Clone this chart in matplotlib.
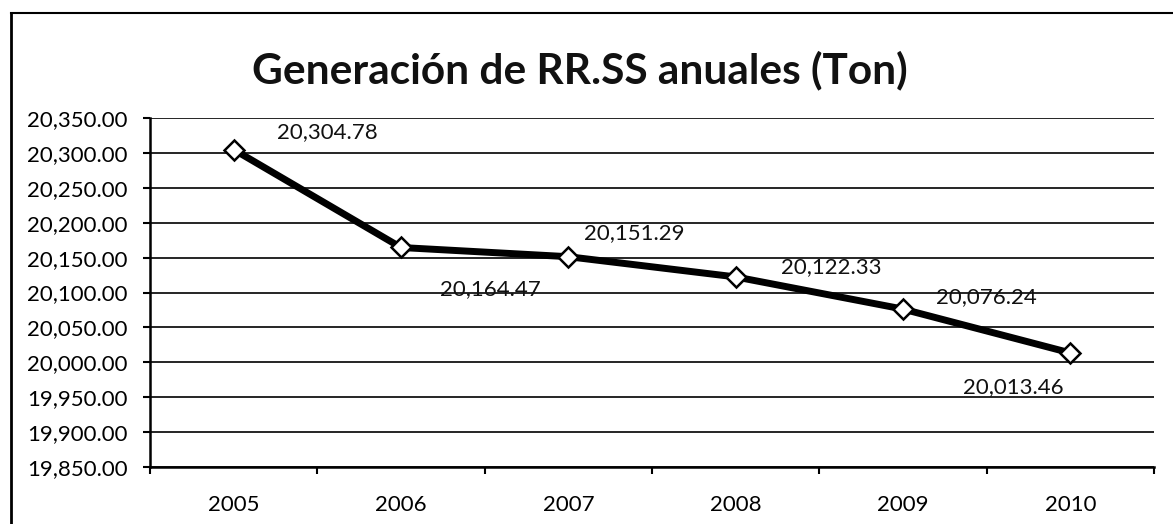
import matplotlib
matplotlib.use("Agg")
import matplotlib.pyplot as plt
from matplotlib.lines import Line2D
from matplotlib.ticker import FuncFormatter, FixedLocator

years = ["2005", "2006", "2007", "2008", "2009", "2010"]
tons = [20304.78, 20164.47, 20151.29, 20122.33, 20076.24, 20013.46]
label_offsets = [(94, 17), (89, -42), (66, 24), (96, 10), (83, 12), (-57, -34)]  # pixels

plt.rcParams['font.family'] = ['Lato', 'DejaVu Sans']

W, H = 1173, 524
fig = plt.figure(figsize=(W / 100, H / 100), dpi=100)
ax = fig.add_axes([150 / W, (H - 467) / H, (1154 - 150) / W, (467 - 118) / H])

x = list(range(len(years)))
ax.plot(x, tons, color='black', lw=5, zorder=3, solid_joinstyle='round')
ax.plot(x, tons, linestyle='none', marker='D', markersize=10,
        markerfacecolor='white', markeredgecolor='black', markeredgewidth=1.8, zorder=4)

for xi, v, off in zip(x, tons, label_offsets):
    ax.annotate(f"{v:,.2f}", (xi, v), xytext=off, textcoords='offset pixels',
                ha='center', va='center', fontsize=16, color='#111111')

ax.set_xlim(-0.5, len(years) - 0.5)
ax.set_ylim(19850, 20350)
ax.set_yticks(range(19850, 20351, 50))
ax.yaxis.set_major_formatter(FuncFormatter(lambda v, p: f"{v:,.2f}"))
ax.grid(axis='y', color='black', lw=1.2)
ax.set_axisbelow(True)

ax.set_xticks(x)
ax.set_xticklabels(years)
ax.xaxis.set_minor_locator(FixedLocator([i - 0.5 for i in range(len(years) + 1)]))
ax.tick_params(axis='x', which='major', length=0, pad=20, labelsize=16)
ax.tick_params(axis='x', which='minor', length=5, width=1.5, direction='out')
ax.tick_params(axis='y', length=5, width=1.5, labelsize=16, pad=11)

for s in ['top', 'right']:
    ax.spines[s].set_visible(False)
for s in ['left', 'bottom']:
    ax.spines[s].set_linewidth(1.8)

fig.text(580 / W, 1 - 70 / H, "Generación de RR.SS anuales (Ton)", ha='center', va='center',
         fontsize=30.5, fontweight='bold', color='#111111')

# border around the scanned chart
fig.add_artist(Line2D([11 / W, 11 / W], [0, 1 - 13 / H], color='black', lw=2, transform=fig.transFigure))
fig.add_artist(Line2D([11 / W, 1], [1 - 13 / H, 1 - 13 / H], color='black', lw=1.5, transform=fig.transFigure))

fig.savefig("out.png", dpi=100)
